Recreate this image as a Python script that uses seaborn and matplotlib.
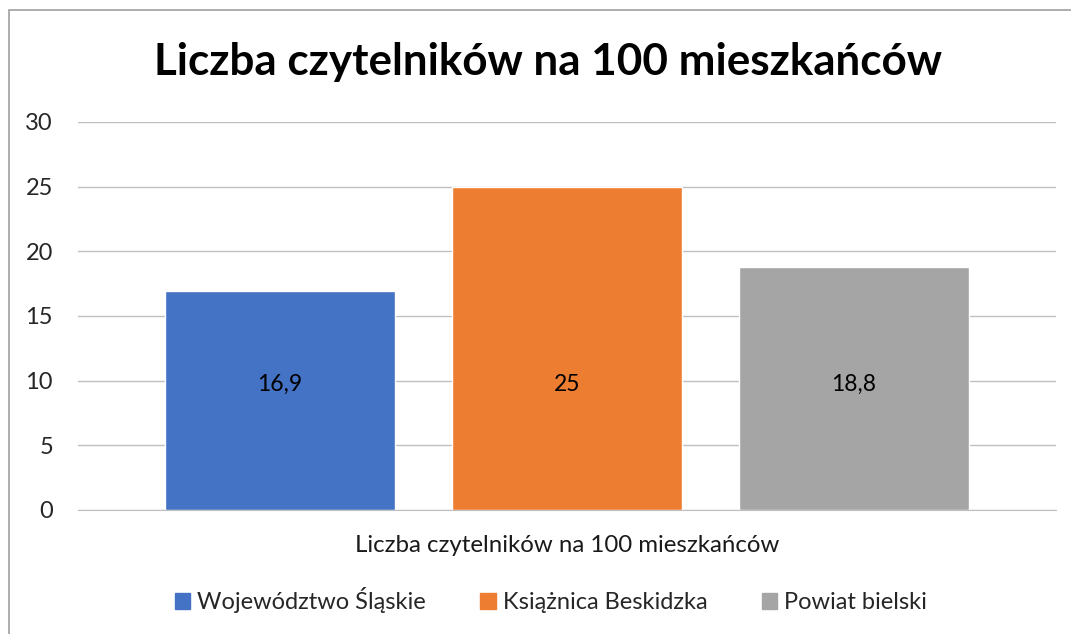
import pandas as pd
import seaborn as sns
import matplotlib.pyplot as plt
from matplotlib.patches import Rectangle

# data
series = ["Województwo Śląskie", "Książnica Beskidzka", "Powiat bielski"]
values = [16.9, 25, 18.8]
value_labels = ["16,9", "25", "18,8"]
colors = ["#4472C4", "#ED7D31", "#A5A5A5"]
category = "Liczba czytelników na 100 mieszkańców"
title = "Liczba czytelników na 100 mieszkańców"
yticks = [0, 5, 10, 15, 20, 25, 30]

df = pd.DataFrame({"series": series, "value": values})

sns.set_style("white")
plt.rcParams["font.family"] = ["Lato", "DejaVu Sans"]

fig = plt.figure(figsize=(10.71, 6.34), dpi=100)
ax = fig.add_axes([78 / 1071, 1 - 510 / 634, (1056 - 78) / 1071, (510 - 122) / 634])

sns.barplot(data=df, x="series", y="value", hue="series", palette=colors,
            width=0.8, dodge=False, legend=False, ax=ax, saturation=1)

ax.set_xlim(-0.704, 2.704)
ax.set_ylim(0, 30)
ax.set_yticks(yticks)
ax.set_yticklabels([str(t) for t in yticks], fontsize=17)
ax.tick_params(axis="y", length=0, pad=18)
ax.set_xticks([])
ax.grid(axis="y", color="#BFBFBF", linewidth=1)
ax.set_axisbelow(True)
for s in ["top", "right", "left"]:
    ax.spines[s].set_visible(False)
ax.spines["bottom"].set_color("#BFBFBF")
ax.set_xlabel("")
ax.set_ylabel("")

for i, lab in enumerate(value_labels):
    ax.text(i, 9.7, lab, ha="center", va="center", fontsize=16.5, color="black")

fig.text(0.5 * (78 + 1056) / 1071, 1 - 545 / 634, category, ha="center", va="center",
         fontsize=17.3, color="#1a1a1a")
fig.text(548 / 1071, 1 - 62 / 634, title, ha="center", va="center",
         fontsize=31.7, fontweight="bold", color="black")

handles = [Rectangle((0, 0), 1, 1, color=c) for c in colors]
fig.legend(handles, series, loc="center", bbox_to_anchor=(551 / 1071, 1 - 600 / 634),
           ncol=3, frameon=False, fontsize=17, handlelength=0.65, handleheight=0.65,
           handletextpad=0.3, columnspacing=2.3)

fig.patches.append(Rectangle((9 / 1071, -0.1), 1.2, 1 - 10 / 634 + 0.1,
                             transform=fig.transFigure, fill=False,
                             edgecolor="#A0A0A0", linewidth=1.2))

fig.savefig("out.png", dpi=100)
